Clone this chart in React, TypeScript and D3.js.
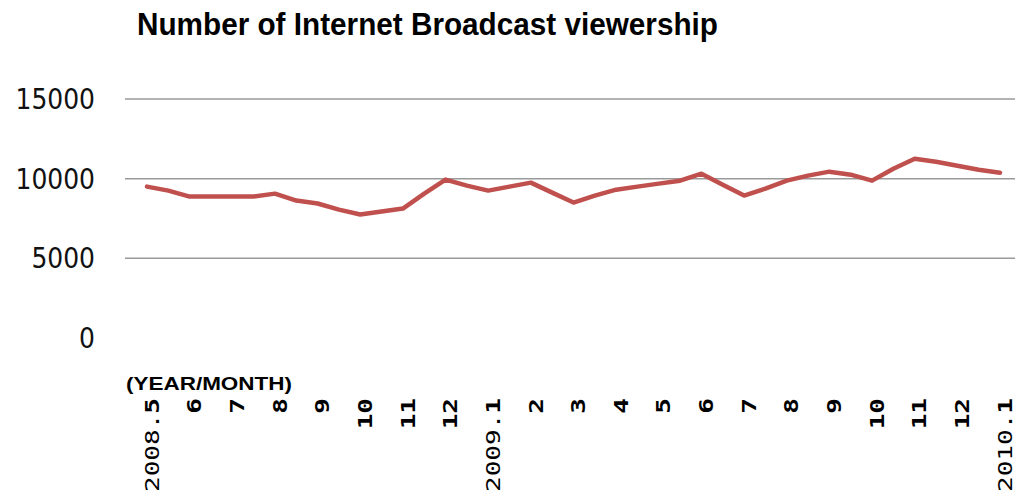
import React from "react";
import * as d3 from "d3";

const monthLabels = ["2008.5","6","7","8","9","10","11","12","2009.1","2","3","4","5","6","7","8","9","10","11","12","2010.1"];
// semi-monthly viewership readings (index 0 = 2008.5, step = half month)
const viewers = [
  9500, 9250, 8875, 8875, 8875, 8875, 9060, 8625, 8440, 8060,
  7750, 7940, 8125, 9060, 9940, 9560, 9250, 9500, 9750, 9125,
  8500, 8940, 9310, 9500, 9690, 9875, 10310, 9625, 8940, 9375,
  9875, 10190, 10440, 10250, 9875, 10625, 11250, 11060, 10810, 10560,
  10375,
];
const yTicks = [0, 5000, 10000, 15000];
const gridTicks = [5000, 10000, 15000];

const W = 1015, H = 496;

export default function App() {
  const x = d3.scaleLinear().domain([0, monthLabels.length - 1]).range([147, 1000]);
  const xs = d3.scaleLinear().domain([0, viewers.length - 1]).range([147, 1000]);
  const y = d3.scaleLinear().domain([0, 15000]).range([338, 99]);
  const line = d3.line<number>().x((_, i) => xs(i)).y((d) => y(d)).curve(d3.curveLinear);

  return (
    <svg width={W} height={H} style={{ position: "absolute", left: 0, top: 0, background: "#fff" }}>
      <text x={137} y={35} fontFamily="Liberation Sans, Arial, sans-serif" fontWeight="bold" fontSize={31}
        textLength={581} lengthAdjust="spacingAndGlyphs" fill="#000">Number of Internet Broadcast viewership</text>
      {gridTicks.map((t) => (
        <line key={t} x1={125} x2={1015} y1={y(t)} y2={y(t)} stroke="#9a9a9a" strokeWidth={1.5} />
      ))}
      {yTicks.map((t) => (
        <text key={t} x={95} y={y(t)} textAnchor="end" dominantBaseline="central"
          fontFamily="DejaVu Sans, sans-serif" fontSize={25}
          transform={`translate(0 ${y(t)}) scale(1 1.12) translate(0 ${-y(t)})`} fill="#111">{t}</text>
      ))}
      <path d={line(viewers) || ""} fill="none" stroke="#c0504d" strokeWidth={4.5} strokeLinejoin="round" strokeLinecap="round" />
      <text x={126} y={390} fontFamily="Liberation Sans, Arial, sans-serif" fontWeight="bold" fontSize={19}
        textLength={166} lengthAdjust="spacingAndGlyphs" fill="#000">(YEAR/MONTH)</text>
      {monthLabels.map((m, i) => {
        const parts = m.split(".");
        const tx = x(i) + 5;
        return (
          <text key={i} transform={`translate(${tx} 398) rotate(-90) scale(1.37 1)`} textAnchor="end"
            dominantBaseline="central" fontFamily="DejaVu Sans Mono, monospace" fontSize={19} fill="#000">
            {parts.length > 1 ? (
              <>
                <tspan fontWeight="normal">{parts[0] + "."}</tspan>
                <tspan fontWeight="bold">{parts[1]}</tspan>
              </>
            ) : (
              <tspan fontWeight="bold">{m}</tspan>
            )}
          </text>
        );
      })}
    </svg>
  );
}
